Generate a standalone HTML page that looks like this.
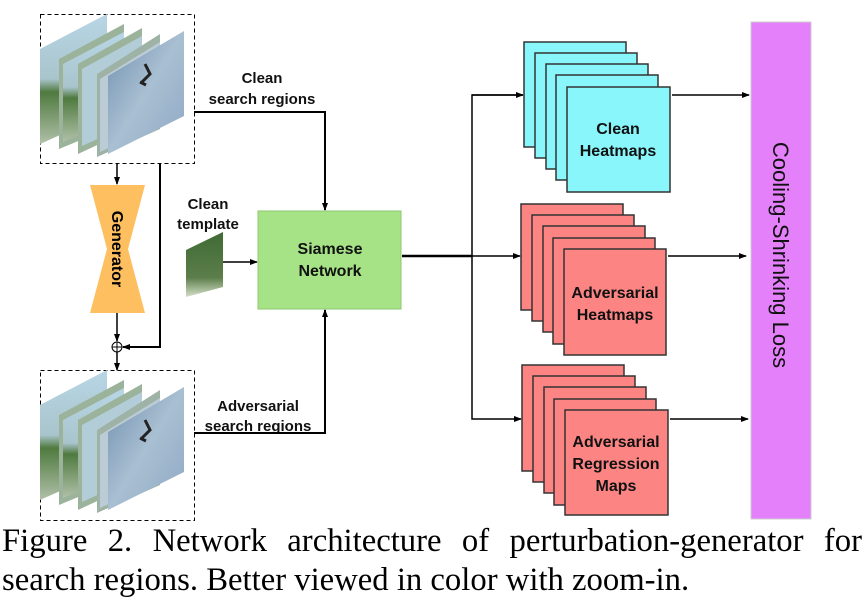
<!DOCTYPE html>
<html><head><style>
body{margin:0;width:866px;height:600px;background:#fff;overflow:hidden;font-family:"Liberation Sans",sans-serif}
.cap{position:absolute;left:2px;width:860px;font-family:"Liberation Serif",serif;font-size:32.7px;color:#000;white-space:nowrap;line-height:36px}
</style></head><body>
<svg width="866" height="600" style="position:absolute;left:0;top:0" font-family="Liberation Sans, sans-serif">
<defs>
<marker id="a" markerWidth="8" markerHeight="8" refX="7" refY="4" orient="auto" markerUnits="userSpaceOnUse"><path d="M0,1 L8,4 L0,7z" fill="#000"/></marker>
<linearGradient id="sky" x1="0" y1="0" x2="0" y2="1"><stop offset="0" stop-color="#b8d6e6"/><stop offset="0.5" stop-color="#a9c4cc"/><stop offset="0.6" stop-color="#4f7a3f"/><stop offset="1" stop-color="#b0c0a8"/></linearGradient>
<linearGradient id="sky2" x1="0" y1="0" x2="1" y2="1"><stop offset="0" stop-color="#6e8fae"/><stop offset="0.5" stop-color="#a9bfd2"/><stop offset="1" stop-color="#8ea9c4"/></linearGradient>
<linearGradient id="tpl" x1="0" y1="0" x2="0" y2="1"><stop offset="0" stop-color="#3f6b35"/><stop offset="0.7" stop-color="#5b7d4a"/><stop offset="1" stop-color="#d6e0c8"/></linearGradient>
<g id="stack">
<polygon points="10,45 77,10 77,110 10,140" fill="url(#sky)"/>
<polygon points="29,55 94,20 94,118 29,145" fill="#9bb39a"/>
<polygon points="33,60 94,28 94,112 33,138" fill="url(#sky)"/>
<polygon points="48,60 112,24 112,120 48,150" fill="#9bb39a"/>
<polygon points="52,65 112,32 112,115 52,142" fill="#b3cdd8"/>
<polygon points="67,70 130,30 130,125 67,153" fill="#9eb2a6"/>
<polygon points="70,75 130,38 130,120 70,148" fill="#bcccd6"/>
<polygon points="78,72 154,27 154,112 78,150" fill="url(#sky2)"/>
<path d="M115,60 L120,70 L112,78 M110,78 l6,3" stroke="#222" stroke-width="3" fill="none"/>
</g>
</defs>
<rect x="40.5" y="14.5" width="154" height="149" fill="none" stroke="#000" stroke-dasharray="4,3"/>
<use href="#stack" x="30" y="4"/>
<rect x="40.5" y="370.5" width="154" height="150" fill="none" stroke="#000" stroke-dasharray="4,3"/>
<use href="#stack" x="30" y="360"/>
<polygon points="90,185 145,185 128,249 145,313 90,313 107,249" fill="#fdbf5f"/>
<text transform="translate(112,249) rotate(90)" text-anchor="middle" font-size="16" font-weight="bold">Generator</text>
<line x1="117" y1="163" x2="117" y2="184" stroke="#000" stroke-width="1.5" marker-end="url(#a)"/>
<line x1="117" y1="313" x2="117" y2="341" stroke="#000" stroke-width="1.5" marker-end="url(#a)"/>
<circle cx="117" cy="347" r="5" fill="#fff" stroke="#000"/>
<path d="M112,347h10M117,342v10" stroke="#000"/>
<polyline points="160,163 160,347 123,347" fill="none" stroke="#000" stroke-width="2" marker-end="url(#a)"/>
<line x1="117" y1="352" x2="117" y2="370" stroke="#000" stroke-width="1.5" marker-end="url(#a)"/>
<g font-size="15" font-weight="bold" fill="#111" text-anchor="middle">
<text x="262" y="83">Clean</text>
<text x="262" y="104">search regions</text>
<text x="208" y="209">Clean</text>
<text x="208" y="229">template</text>
<text x="258" y="411">Adversarial</text>
<text x="258" y="431">search regions</text>
</g>
<polyline points="194,112 325,112 325,210" fill="none" stroke="#000" stroke-width="2" marker-end="url(#a)"/>
<polygon points="186,250 223,232 223,287 186,297" fill="url(#tpl)"/>
<line x1="223" y1="262" x2="257" y2="262" stroke="#000" stroke-width="1.5" marker-end="url(#a)"/>
<rect x="258" y="211" width="143" height="98" fill="#a6e386" stroke="#8fc770"/>
<text x="330" y="254" text-anchor="middle" font-size="16" font-weight="bold" fill="#111">Siamese</text>
<text x="330" y="276" text-anchor="middle" font-size="16" font-weight="bold" fill="#111">Network</text>
<polyline points="194,433 325,433 325,310" fill="none" stroke="#000" stroke-width="2" marker-end="url(#a)"/>
<line x1="402" y1="256" x2="472" y2="256" stroke="#000" stroke-width="2.5"/>
<polyline points="523,95 472,95 472,419 521,419" fill="none" stroke="#000" stroke-width="1.5" marker-end="url(#a)"/>
<line x1="472" y1="95" x2="523" y2="95" stroke="#000" stroke-width="1.5" marker-end="url(#a)"/>
<line x1="472" y1="256" x2="520" y2="256" stroke="#000" stroke-width="1.5" marker-end="url(#a)"/>
<g stroke="#333" stroke-width="1.5" fill="#88f6fb">
<rect x="524" y="42" width="102" height="105"/><rect x="535" y="53" width="102" height="105"/><rect x="546" y="64" width="102" height="105"/><rect x="556" y="75" width="102" height="105"/><rect x="567" y="87" width="103" height="105"/>
</g>
<g stroke="#333" stroke-width="1.5" fill="#fc8584">
<rect x="521" y="204" width="102" height="106"/><rect x="532" y="215" width="102" height="106"/><rect x="543" y="226" width="102" height="106"/><rect x="553" y="238" width="102" height="106"/><rect x="564" y="249" width="102" height="106"/>
<rect x="522" y="365" width="102" height="106"/><rect x="533" y="376" width="102" height="106"/><rect x="544" y="387" width="102" height="106"/><rect x="554" y="399" width="102" height="106"/><rect x="565" y="410" width="103" height="105"/>
</g>
<g font-size="16" font-weight="bold" fill="#111" text-anchor="middle">
<text x="618" y="134">Clean</text>
<text x="618" y="156">Heatmaps</text>
<text x="615" y="298">Adversarial</text>
<text x="615" y="320">Heatmaps</text>
<text x="616" y="447">Adversarial</text>
<text x="616" y="469">Regression</text>
<text x="616" y="491">Maps</text>
</g>
<line x1="672" y1="95" x2="749" y2="95" stroke="#000" stroke-width="1.5" marker-end="url(#a)"/>
<line x1="668" y1="256" x2="746" y2="256" stroke="#000" stroke-width="1.5" marker-end="url(#a)"/>
<line x1="670" y1="419" x2="748" y2="419" stroke="#000" stroke-width="1.5" marker-end="url(#a)"/>
<rect x="751" y="22" width="60" height="497" fill="#e580fb" stroke="#ccc"/>
<text transform="translate(773,255) rotate(90)" text-anchor="middle" font-size="22" fill="#111">Cooling-Shrinking Loss</text>
</svg>
<div class="cap" style="top:523px;text-align:justify;text-align-last:justify">Figure 2. Network architecture of perturbation-generator for</div>
<div class="cap" style="top:562px">search regions. Better viewed in color with zoom-in.</div>
</body></html>
